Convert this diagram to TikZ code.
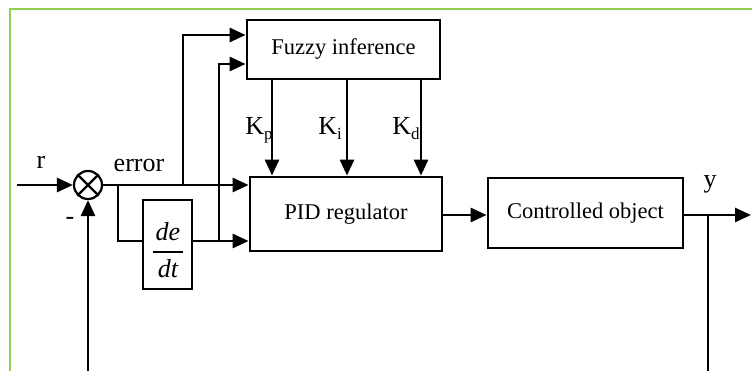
\documentclass[tikz,border=0pt]{standalone}
\usepackage{fontspec}
\setmainfont{Liberation Serif}
\usetikzlibrary{arrows.meta}
\definecolor{framegreen}{HTML}{92D050}
\begin{document}
\begin{tikzpicture}[x=1pt,y=-1pt,
  line width=2.8pt,
  arr/.style={-{Triangle[length=16pt,width=14pt]}},
  blk/.style={draw,line width=2.8pt,inner sep=0pt,font=\fontsize{22.5}{26}\selectfont},
  lbl/.style={inner sep=0pt,font=\fontsize{26}{30}\selectfont},
  frac/.style={inner sep=0pt,font=\fontsize{26}{30}\selectfont\itshape}]
\useasboundingbox (0,0) rectangle (752,371);
\draw[framegreen,line width=2.2pt] (752,9) -- (10,9) -- (10,371);
% blocks
\node[blk,minimum width=193pt,minimum height=59pt] (f) at (343.5,49.5) {Fuzzy inference};
\node[blk,minimum width=192pt,minimum height=74pt] (p) at (346,214) {PID regulator};
\node[blk,minimum width=195pt,minimum height=70pt] (c) at (585.5,213) {Controlled object};
\node[blk,minimum width=49pt,minimum height=89pt] (d) at (167.5,244.5) {};
\node[frac,anchor=base] (dn) at (168,241) {de};
\node[frac,anchor=base] (dd) at (168,277) {dt};
\draw[line width=1.2pt] (153,252) -- (183,252);
\node[draw,circle,line width=2.2pt,minimum size=28pt,inner sep=0pt] (s) at (88,185) {};
\draw[line width=2.2pt] (s.north west) -- (s.south east) (s.north east) -- (s.south west);
% coordinates
\coordinate (in) at (17,185);
\coordinate (j2) at (118,185);
\coordinate (j1) at (183,185);
\coordinate (j3) at (219,241);
\coordinate (fb1) at (88,371);
\coordinate (j4) at (708,215);
\coordinate (fb2) at (708,371);
\coordinate (out) at (751,215);
% connectors
\draw[arr] (in) -- (s.west);
\draw[arr] (s.east) -- (p.west |- s.east);
\draw[arr] (j1) |- (f.west |- 0,35);
\draw (j2) |- (d.west |- 0,241);
\draw[arr] (d.east |- 0,241) -- (p.west |- 0,241);
\draw[arr] (j3) |- (f.west |- 0,64);
\draw[arr] (fb1) -- (s.south);
\draw[arr] (p.east |- 0,215) -- (c.west |- 0,215);
\draw[arr] (c.east |- 0,215) -- (out);
\draw (j4) -- (fb2);
\draw[arr] (f.south -| 272,0) -- (p.north -| 272,0);
\draw[arr] (f.south -| 347,0) -- (p.north -| 347,0);
\draw[arr] (f.south -| 421,0) -- (p.north -| 421,0);
% labels
\node[lbl] (lr) at (41,162) {r};
\node[lbl] (le) at (139,166) {error};
\node[lbl] (lm) at (70,221) {-};
\node[lbl] (ly) at (710,184) {y};
\node[lbl,anchor=base west] (kp) at (244,135) {K\raisebox{-5pt}{\fontsize{17}{20}\selectfont p}};
\node[lbl,anchor=base west] (ki) at (317,135) {K\raisebox{-5pt}{\fontsize{17}{20}\selectfont i}};
\node[lbl,anchor=base west] (kd) at (391,135) {K\raisebox{-5pt}{\fontsize{17}{20}\selectfont d}};
\end{tikzpicture}
\end{document}
